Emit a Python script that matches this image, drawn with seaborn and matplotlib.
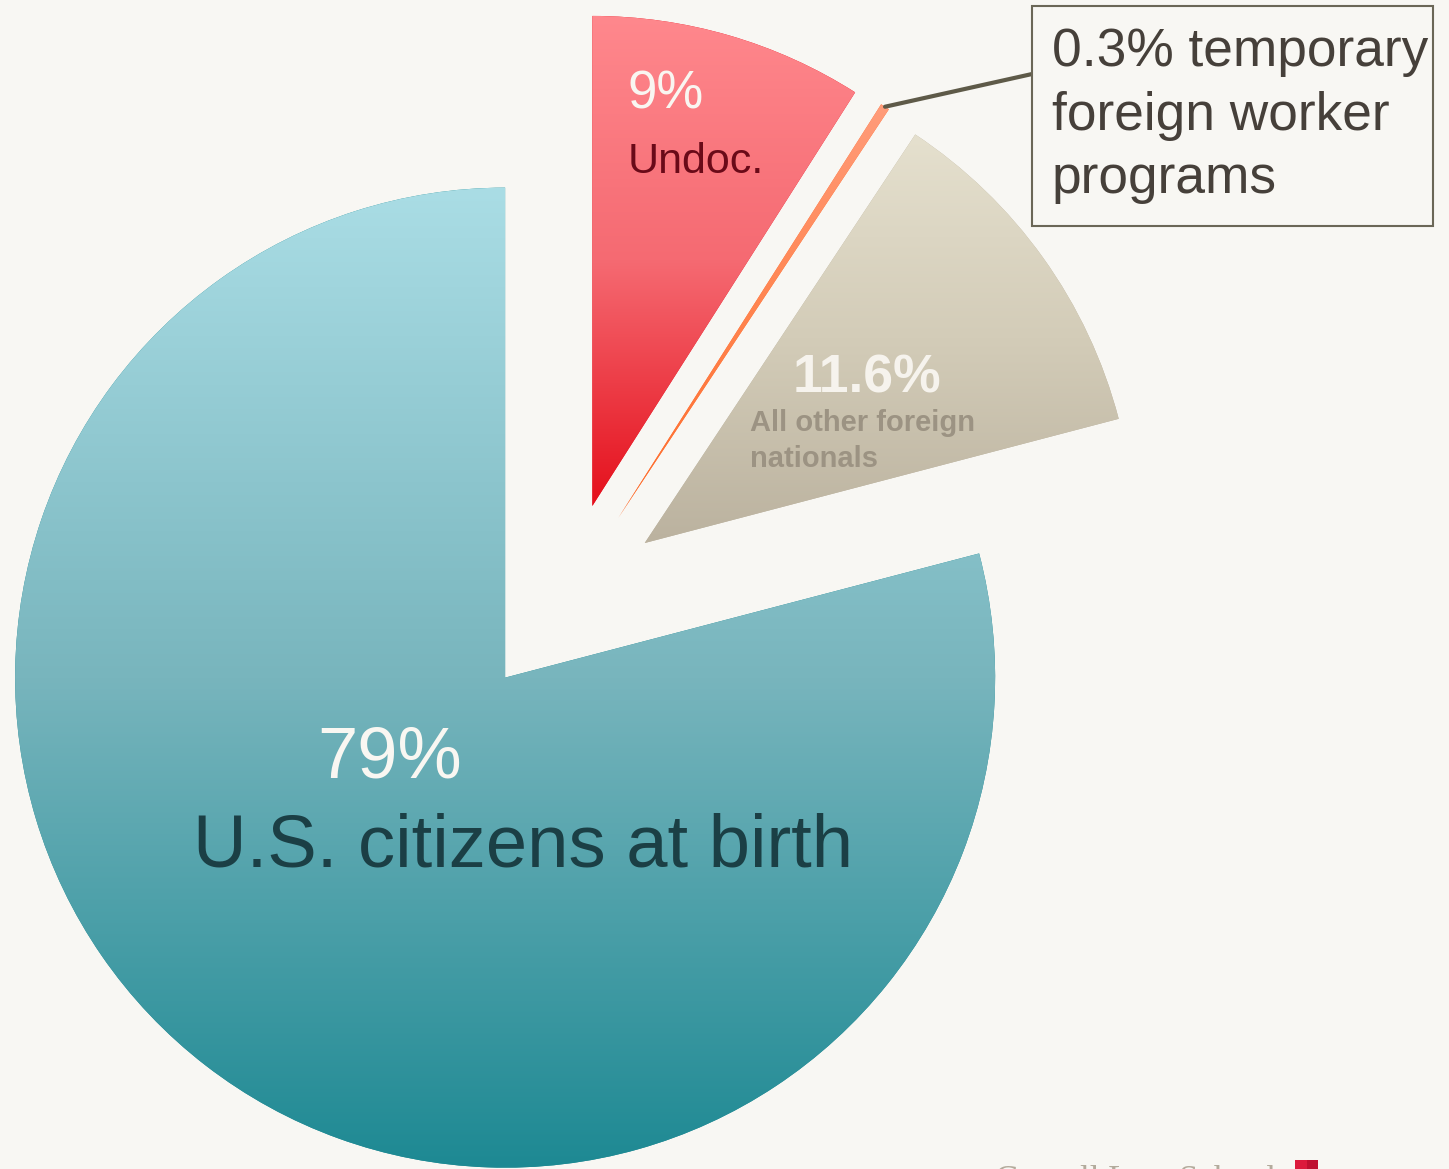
import numpy as np
import matplotlib.pyplot as plt
import matplotlib.patches as mpatches
import seaborn as sns

# slice data, clockwise from 12 o'clock
shares = [9, 0.3, 11.6, 79]
names = ["Undoc.", "temporary foreign worker programs",
         "All other foreign\nnationals", "U.S. citizens at birth"]
pct_labels = ["9%", "0.3%", "11.6%", "79%"]
top_colors = ["#FF888D", "#FF9C7A", "#E5E0CE", "#AADDE5"]
mid_colors = ["#F56A72", "#FF844F", "#D3CCB8", "#78B5BD"]
bottom_colors = ["#E5101C", "#FF6A28", "#BBB29F", "#1D8993"]
explode = [0.2, 0.2, 0.2, 0.2]

bg = "#F8F7F3"
sns.set_theme(style="white", rc={"figure.facecolor": bg, "axes.facecolor": bg})
plt.rcParams["font.family"] = ["Liberation Sans", "DejaVu Sans"]

fig = plt.figure(figsize=(14.49, 11.69), dpi=100)
ax = fig.add_axes([0, 0, 1, 1])

wedges, _ = ax.pie(shares, explode=explode, startangle=90, counterclock=False,
                   colors=bottom_colors, wedgeprops=dict(linewidth=0))

# vertical gradient fill for every slice, plus a soft drop shadow
for w, c0, cm, c1 in zip(wedges, top_colors, mid_colors, bottom_colors):
    verts = w.get_path().vertices
    x0, y0 = verts.min(axis=0)
    x1, y1 = verts.max(axis=0)
    grad = np.array(sns.blend_palette([c1, cm, c0], n_colors=256))[:, None, :]
    im = ax.imshow(grad, extent=(x0, x1, y0, y1), origin="lower",
                   aspect="auto", interpolation="bilinear", zorder=2)
    im.set_clip_path(w)
    sh = mpatches.Shadow(w, 2, -4, facecolor="#808080", edgecolor="none",
                         alpha=0.16, zorder=0.5)
    ax.add_patch(sh)

ax.set_xlim(-1.153, 1.804)
ax.set_ylim(-1.161, 1.2245)
ax.set_aspect("equal")
ax.axis("off")

W, H = 1449, 1169


def fx(px):
    return px / W


def fy(py):
    return 1 - py / H


# in-slice labels (multi-line texts are anchored on their last baseline)
ax.text(fx(628), fy(108), pct_labels[0], transform=ax.transAxes, fontsize=38,
        color="#F9F6F1", va="baseline", zorder=5)
ax.text(fx(628), fy(173), names[0], transform=ax.transAxes, fontsize=31,
        color="#6A0A18", va="baseline", zorder=5)
ax.text(fx(793), fy(392), pct_labels[2], transform=ax.transAxes, fontsize=38.5,
        fontweight="bold", color="#F6F3ED", va="baseline", zorder=5)
ax.text(fx(750), fy(467), names[2], transform=ax.transAxes, fontsize=21,
        fontweight="bold", color="#9C9383", va="baseline", linespacing=1.38,
        zorder=5)
ax.text(fx(317), fy(778), pct_labels[3], transform=ax.transAxes, fontsize=52,
        color="#F9F7F2", va="baseline", zorder=5)
ax.text(fx(193), fy(867), names[3], transform=ax.transAxes, fontsize=53.5,
        color="#1B3F45", va="baseline", zorder=5)

# call-out for the thin slice
tw = wedges[1]
tm = np.deg2rad((tw.theta1 + tw.theta2) / 2)
tip = (tw.center[0] + tw.r * np.cos(tm), tw.center[1] + tw.r * np.sin(tm))
ax.annotate("", xy=tip, xytext=(fx(1032), fy(74)), textcoords="axes fraction",
            arrowprops=dict(arrowstyle="-", color="#5E5A48", lw=3,
                            shrinkA=0, shrinkB=0), zorder=4)
ax.add_patch(mpatches.Rectangle((fx(1032), fy(226)), 401 / W, 220 / H,
                                transform=ax.transAxes, facecolor=bg,
                                edgecolor="#6B6757", lw=1.5, zorder=4))
ax.text(fx(1052), fy(193), pct_labels[1] + " temporary\nforeign worker\nprograms",
        transform=ax.transAxes, fontsize=38.3, color="#46403A", va="baseline",
        linespacing=1.34, zorder=5)

# footer logo, cut off by the bottom edge
ax.text(fx(995), fy(1190), "Cornell Law School", transform=ax.transAxes,
        fontsize=25, family=["Liberation Serif", "DejaVu Serif"],
        color="#B3AB9C", va="baseline", clip_on=False, zorder=5)
ax.add_patch(mpatches.Rectangle((fx(1295), -0.02), 12 / W, 9 / H + 0.02,
                                transform=ax.transAxes, facecolor="#DC1A3C",
                                edgecolor="none", clip_on=False, zorder=5))
ax.add_patch(mpatches.Rectangle((fx(1307), -0.02), 11 / W, 9 / H + 0.02,
                                transform=ax.transAxes, facecolor="#BF1030",
                                edgecolor="none", clip_on=False, zorder=5))

fig.savefig("out.png", dpi=100, facecolor=bg)
